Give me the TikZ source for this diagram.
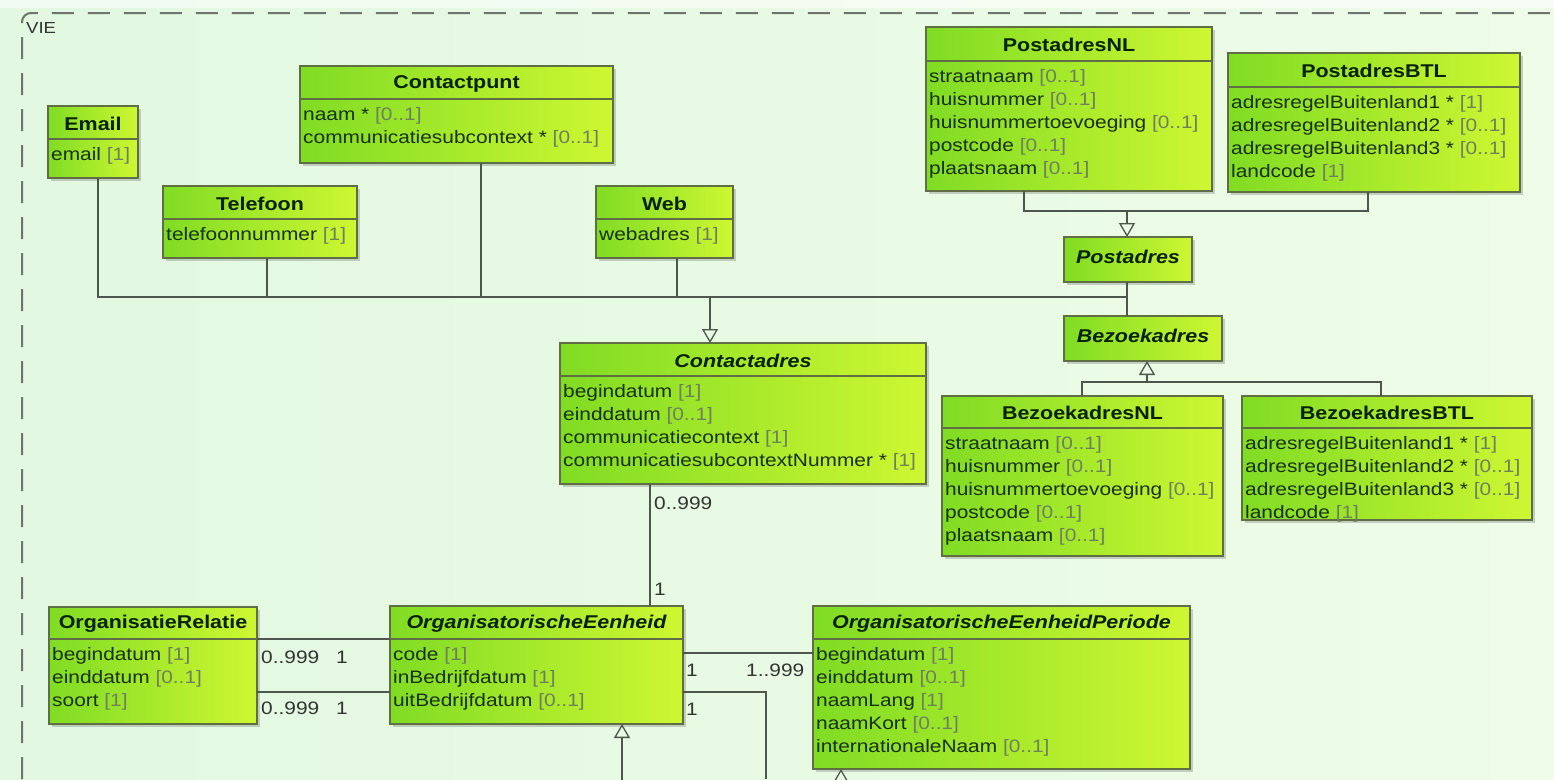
\documentclass[tikz,border=0pt]{standalone}
\usepackage{fontspec}
\setmainfont{Liberation Sans}[FakeStretch=1.16]
\usetikzlibrary{arrows.meta,shadows}

\definecolor{bgL}{RGB}{226,248,224}
\definecolor{bgR}{RGB}{238,252,232}
\definecolor{boxL}{RGB}{128,220,36}
\definecolor{boxR}{RGB}{206,247,50}
\definecolor{boxline}{RGB}{96,110,70}
\definecolor{txt}{RGB}{26,48,18}
\definecolor{mult}{RGB}{112,128,92}
\definecolor{conn}{RGB}{78,86,78}
\definecolor{ttl}{RGB}{8,34,8}
\definecolor{framec}{RGB}{112,116,112}

\tikzset{
  umlbox/.style={draw=boxline, line width=1.2pt, left color=boxL, right color=boxR,
    inner sep=0pt, outer sep=0pt,
    drop shadow={shadow xshift=3pt, shadow yshift=-3pt, opacity=0.3, fill=black!60}},
  divline/.style={draw=boxline, line width=1.1pt},
  ttlsty/.style={font=\fontsize{18.5}{22}\selectfont\bfseries, text=ttl, inner sep=0pt},
  ttlabs/.style={ttlsty, font=\fontsize{18.5}{22}\selectfont\bfseries\itshape},
  attrsty/.style={font=\fontsize{18}{23}\selectfont, text=txt, align=left, inner sep=0pt},
  conn/.style={draw=conn, line width=1.3pt},
  gen/.style={conn, -{Triangle[open, length=14pt, width=16pt, line width=1.3pt]}},
  lbl/.style={font=\fontsize{18}{20}\selectfont, text=black!80, inner sep=0pt},
  framesty/.style={draw=framec, line width=2pt, dash pattern=on 22pt off 14pt, rounded corners=9pt}
}

\newcommand\mm[1]{\textcolor{mult}{#1}}

% name, x1, y1, x2, y2, ydiv, title, attributes
\newcommand\umlclass[8]{%
  \node[umlbox, anchor=north west, minimum width={(#4-#2)*1pt}, minimum height={(#5-#3)*1pt}] (#1) at (#2,#3) {};
  \draw[divline] (#1.west |- 0,#6) -- (#1.east |- 0,#6);
  \node[ttlsty] (#1-title) at ({(#2+#4)/2},{(#3+#6)/2+1}) {#7};
  \node[attrsty, anchor=north west] (#1-attrs) at ({#2+3},{#6+8}) {#8};
}
\newcommand\umlabsclass[8]{%
  \node[umlbox, anchor=north west, minimum width={(#4-#2)*1pt}, minimum height={(#5-#3)*1pt}] (#1) at (#2,#3) {};
  \draw[divline] (#1.west |- 0,#6) -- (#1.east |- 0,#6);
  \node[ttlabs] (#1-title) at ({(#2+#4)/2},{(#3+#6)/2+1}) {#7};
  \node[attrsty, anchor=north west] (#1-attrs) at ({#2+3},{#6+8}) {#8};
}
% name, x1, y1, x2, y2, title (abstract, header only)
\newcommand\umlabshead[6]{%
  \node[umlbox, anchor=north west, minimum width={(#4-#2)*1pt}, minimum height={(#5-#3)*1pt}] (#1) at (#2,#3) {};
  \node[ttlabs] (#1-title) at ({(#2+#4)/2},{(#3+#5)/2-3}) {#6};
}

\begin{document}
\begin{tikzpicture}[x=1pt, y=-1pt]
\useasboundingbox (0,0) rectangle (1554,779);
\fill[left color=bgL, right color=bgR] (0,0) rectangle (1554,779);
\fill[white, opacity=0.55] (0,0) rectangle (1554,8);

% frame
\draw[framesty] (22,779) -- (22,13) -- (1554,13);
\node[font=\fontsize{16}{17}\selectfont, text=black!80, inner sep=0pt, anchor=north west] (vie) at (26,22) {VIE};

% classes
\umlclass{email}{48}{106}{138}{178}{139}{Email}{email \mm{[1]}}
\umlclass{contactpunt}{300}{66}{613}{163}{99}{Contactpunt}{naam * \mm{[0..1]}\\communicatiesubcontext * \mm{[0..1]}}
\umlclass{telefoon}{163}{186}{357}{258}{219}{Telefoon}{telefoonnummer \mm{[1]}}
\umlclass{web}{596}{186}{733}{258}{219}{Web}{webadres \mm{[1]}}
\umlclass{postnl}{926}{27}{1212}{191}{61}{PostadresNL}{straatnaam \mm{[0..1]}\\huisnummer \mm{[0..1]}\\huisnummertoevoeging \mm{[0..1]}\\postcode \mm{[0..1]}\\plaatsnaam \mm{[0..1]}}
\umlclass{postbtl}{1228}{53}{1520}{192}{87}{PostadresBTL}{adresregelBuitenland1 * \mm{[1]}\\adresregelBuitenland2 * \mm{[0..1]}\\adresregelBuitenland3 * \mm{[0..1]}\\landcode \mm{[1]}}
\umlabshead{postadres}{1064}{237}{1192}{282}{Postadres}
\umlabshead{bezoekadres}{1064}{316}{1222}{361}{Bezoekadres}
\umlabsclass{contactadres}{560}{343}{926}{484}{376}{Contactadres}{begindatum \mm{[1]}\\einddatum \mm{[0..1]}\\communicatiecontext \mm{[1]}\\communicatiesubcontextNummer * \mm{[1]}}
\umlclass{bezoeknl}{942}{396}{1223}{556}{428}{BezoekadresNL}{straatnaam \mm{[0..1]}\\huisnummer \mm{[0..1]}\\huisnummertoevoeging \mm{[0..1]}\\postcode \mm{[0..1]}\\plaatsnaam \mm{[0..1]}}
\umlclass{bezoekbtl}{1242}{396}{1532}{520}{428}{BezoekadresBTL}{adresregelBuitenland1 * \mm{[1]}\\adresregelBuitenland2 * \mm{[0..1]}\\adresregelBuitenland3 * \mm{[0..1]}\\landcode \mm{[1]}}
\umlclass{orgrel}{49}{607}{257}{724}{639}{OrganisatieRelatie}{begindatum \mm{[1]}\\einddatum \mm{[0..1]}\\soort \mm{[1]}}
\umlabsclass{oe}{390}{606}{683}{724}{639}{OrganisatorischeEenheid}{code \mm{[1]}\\inBedrijfdatum \mm{[1]}\\uitBedrijfdatum \mm{[0..1]}}
\umlabsclass{oep}{813}{606}{1190}{769}{639}{OrganisatorischeEenheidPeriode}{begindatum \mm{[1]}\\einddatum \mm{[0..1]}\\naamLang \mm{[1]}\\naamKort \mm{[0..1]}\\internationaleNaam \mm{[0..1]}}

% generalization bus to Contactadres
\coordinate (jE) at (98,297);
\coordinate (jT) at (267,297);
\coordinate (jC) at (481,297);
\coordinate (jW) at (677,297);
\coordinate (jA) at (710,297);
\coordinate (jP) at (1127,297);
\draw[conn] (jE |- email.south) -- (jE) -- (jP);
\draw[conn] (jT |- telefoon.south) -- (jT);
\draw[conn] (jC |- contactpunt.south) -- (jC);
\draw[conn] (jW |- web.south) -- (jW);
\draw[conn] (jP |- postadres.south) -- (jP) -- (jP |- bezoekadres.north);
\draw[gen] (jA) -- (jA |- contactadres.north);

% generalization to Postadres
\coordinate (jPN) at (1024,211);
\coordinate (jPB) at (1368,211);
\coordinate (jPP) at (1127,211);
\draw[conn] (jPN |- postnl.south) -- (jPN) -- (jPB) -- (jPB |- postbtl.south);
\draw[gen] (jPP) -- (jPP |- postadres.north);

% generalization to Bezoekadres
\coordinate (jBN) at (1082,382);
\coordinate (jBB) at (1381,382);
\coordinate (jBZ) at (1147,382);
\draw[conn] (jBN |- bezoeknl.north) -- (jBN) -- (jBB) -- (jBB |- bezoekbtl.north);
\draw[gen] (jBZ) -- (jBZ |- bezoekadres.south);

% Contactadres - OrganisatorischeEenheid
\coordinate (xCA) at (650,0);
\draw[conn] (xCA |- contactadres.south) -- (xCA |- oe.north);
\node[lbl, anchor=west] (lca1) at (654,503) {0..999};
\node[lbl, anchor=west] (lca2) at (654,589) {1};

% OrganisatieRelatie - OrganisatorischeEenheid
\draw[conn] (orgrel.east |- 0,639) -- (oe.west |- 0,639);
\draw[conn] (orgrel.east |- 0,692) -- (oe.west |- 0,692);
\node[lbl, anchor=west] (lor1) at (261,657) {0..999};
\node[lbl, anchor=west] (lor2) at (336,657) {1};
\node[lbl, anchor=west] (lor3) at (261,708) {0..999};
\node[lbl, anchor=west] (lor4) at (336,708) {1};

% OE - OEPeriode
\draw[conn] (oe.east |- 0,653) -- (oep.west |- 0,653);
\node[lbl, anchor=west] (lop1) at (686,670) {1};
\node[lbl, anchor=west] (lop2) at (746,670) {1..999};
\coordinate (kOE) at (766,692);
\coordinate (bOE) at (766,779);
\draw[conn] (oe.east |- kOE) -- (kOE) -- (bOE);
\node[lbl, anchor=west] (lop3) at (686,709) {1};

% generalizations from below
\coordinate (bG1) at (622,790);
\draw[gen] (bG1) -- (bG1 |- oe.south);
\coordinate (bG2) at (841,800);
\draw[gen] (bG2) -- (bG2 |- oep.south);
\end{tikzpicture}
\end{document}
